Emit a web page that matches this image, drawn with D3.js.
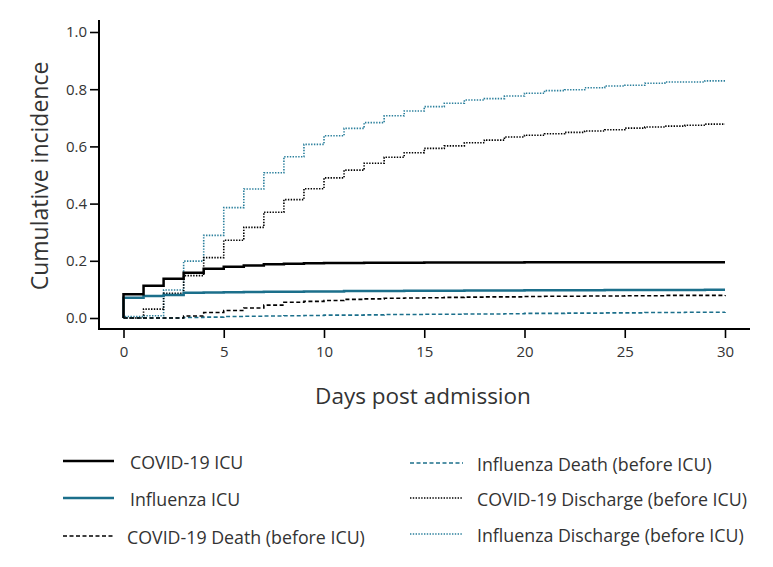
<!DOCTYPE html>
<html><head><meta charset="utf-8">
<script src="https://cdn.jsdelivr.net/npm/d3@7"></script>
<style>body{margin:0;background:#fff}svg{display:block}text{font-family:"Open Sans",sans-serif;fill:#333}</style>
</head><body><svg id="c" width="773" height="567"></svg>
<script>
const days = [0,1,2,3,4,5,6,7,8,9,10,11,12,13,14,15,16,17,18,19,20,21,22,23,24,25,26,27,28,29,30];
const xTicks = [0,5,10,15,20,25,30];
const yTicks = [0,0.2,0.4,0.6,0.8,1.0];
const yTickLabels = ["0.0","0.2","0.4","0.6","0.8","1.0"];
const covidICU = [0.083,0.113,0.137,0.158,0.172,0.179,0.184,0.188,0.190,0.191,0.192,0.192,0.193,0.193,0.193,0.194,0.194,0.194,0.194,0.194,0.195,0.195,0.195,0.195,0.195,0.195,0.195,0.195,0.195,0.195,0.195];
const fluICU = [0.071,0.077,0.080,0.088,0.089,0.090,0.091,0.092,0.092,0.093,0.093,0.094,0.094,0.094,0.095,0.095,0.095,0.096,0.096,0.096,0.097,0.097,0.097,0.097,0.098,0.098,0.098,0.098,0.098,0.099,0.099];
const covidDeath = [0,0,0,0.007,0.019,0.026,0.035,0.045,0.055,0.058,0.061,0.065,0.067,0.069,0.070,0.071,0.072,0.073,0.074,0.074,0.075,0.076,0.076,0.077,0.077,0.078,0.078,0.079,0.079,0.079,0.080];
const fluDeath = [0,0,0,0.002,0.003,0.005,0.006,0.007,0.008,0.009,0.010,0.010,0.011,0.012,0.012,0.013,0.013,0.014,0.014,0.015,0.016,0.016,0.017,0.017,0.018,0.018,0.019,0.019,0.020,0.020,0.021];
const covidDis = [0,0.031,0.086,0.148,0.211,0.272,0.317,0.370,0.414,0.452,0.490,0.517,0.541,0.562,0.578,0.593,0.602,0.613,0.622,0.633,0.639,0.644,0.649,0.654,0.658,0.664,0.668,0.671,0.674,0.678,0.678];
const fluDis = [0.005,0.008,0.098,0.199,0.289,0.386,0.451,0.508,0.564,0.607,0.637,0.663,0.683,0.707,0.724,0.739,0.751,0.762,0.767,0.776,0.786,0.795,0.798,0.805,0.811,0.814,0.821,0.825,0.825,0.829,0.829];
const seriesNames = ["COVID-19 ICU","Influenza ICU","COVID-19 Death (before ICU)","Influenza Death (before ICU)","COVID-19 Discharge (before ICU)","Influenza Discharge (before ICU)"];

const BLACK = "#000", TEAL = "#1b6f8b";
const series = [
  {name:seriesNames[5], v:fluDis, color:"#2a7f9c", w:1.6, dash:"1.4,1.4", lx:410, ly:534, tx:477},
  {name:seriesNames[4], v:covidDis, color:BLACK, w:1.6, dash:"1.4,1.4", lx:410, ly:498, tx:477},
  {name:seriesNames[3], v:fluDeath, color:TEAL, w:1.6, dash:"4,2.5", lx:410, ly:463, tx:477},
  {name:seriesNames[2], v:covidDeath, color:BLACK, w:1.6, dash:"4,2.5", lx:63, ly:536, tx:127},
  {name:seriesNames[1], v:fluICU, color:TEAL, w:2.5, dash:null, lx:63, ly:498, tx:130},
  {name:seriesNames[0], v:covidICU, color:BLACK, w:2.5, dash:null, lx:63, ly:461, tx:130}
];

const svg = d3.select("#c");
const x = d3.scaleLinear().domain([0,30]).range([123.5,725]);
const y = d3.scaleLinear().domain([0,1]).range([318,32]);

// axes
const gy = svg.append("g").attr("transform","translate(99,0)")
  .call(d3.axisLeft(y).tickValues(yTicks).tickFormat((d,i)=>yTickLabels[i]).tickSize(9).tickPadding(3).tickSizeOuter(0));
gy.select(".domain").remove();
gy.append("line").attr("x1",0).attr("x2",0).attr("y1",20).attr("y2",329.5).attr("stroke","#000").attr("stroke-width",2);
gy.selectAll(".tick line").attr("stroke","#000").attr("stroke-width",1.6);
gy.selectAll(".tick text").style("font-size","15px").attr("fill","#333").attr("font-family","'Open Sans',sans-serif");

const gx = svg.append("g").attr("transform","translate(0,329)")
  .call(d3.axisBottom(x).tickValues(xTicks).tickSize(9).tickPadding(8).tickSizeOuter(0));
gx.select(".domain").remove();
gx.append("line").attr("x1",98).attr("x2",750).attr("y1",0).attr("y2",0).attr("stroke","#000").attr("stroke-width",2);
gx.selectAll(".tick line").attr("stroke","#000").attr("stroke-width",1.6);
gx.selectAll(".tick text").style("font-size","15px").attr("fill","#333").attr("font-family","'Open Sans',sans-serif");

// axis titles
svg.append("text").attr("transform","translate(48,176) rotate(-90)").attr("text-anchor","middle")
  .style("font-size","23px").text("Cumulative incidence");
svg.append("text").attr("x",423).attr("y",404).attr("text-anchor","middle")
  .style("font-size","22.5px").text("Days post admission");

// curves
const line = d3.line().x(d=>x(d[0])).y(d=>y(d[1])).curve(d3.curveStepAfter);
series.forEach(s=>{
  const pts = [[0,0]].concat(days.map((d,i)=>[d,s.v[i]]));
  const p = svg.append("path").attr("d",line(pts)).attr("fill","none")
    .attr("stroke",s.color).attr("stroke-width",s.w);
  if(s.dash) p.attr("stroke-dasharray",s.dash);
});

// legend
series.forEach(s=>{
  const g = svg.append("g");
  const l = g.append("line").attr("x1",s.lx).attr("x2",s.lx+(s.lx<100?51:53)).attr("y1",s.ly).attr("y2",s.ly)
    .attr("stroke",s.color).attr("stroke-width",s.dash?1.3:2.5);
  if(s.dash) l.attr("stroke-dasharray",s.dash);
  g.append("text").attr("x",s.tx).attr("y",s.ly+7.5)
    .style("font-size","17.8px").text(s.name);
});
</script></body></html>
